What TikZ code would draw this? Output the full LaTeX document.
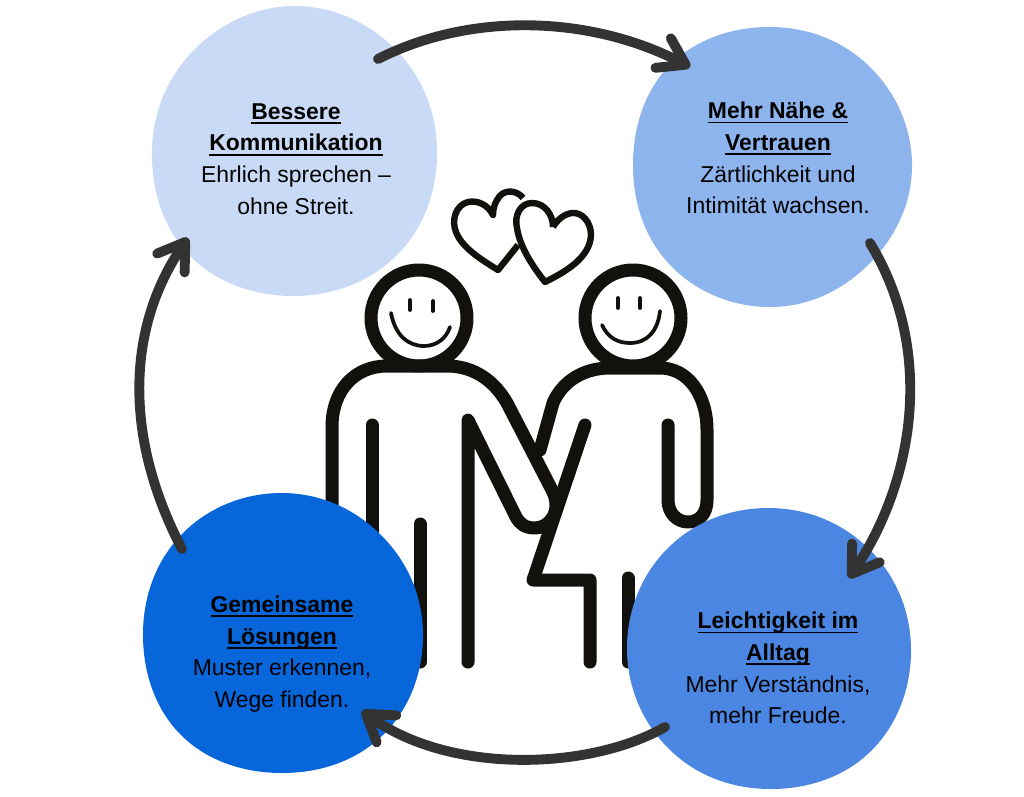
\documentclass[tikz,border=0pt]{standalone}
\usepackage{fontspec}
\setmainfont{Liberation Sans}
\usetikzlibrary{arrows.meta}

\definecolor{softblue}{HTML}{C9DAF6}
\definecolor{lightblue}{HTML}{8EB4EE}
\definecolor{midblue}{HTML}{4A86E2}
\definecolor{deepblue}{HTML}{0766DA}
\definecolor{inkline}{HTML}{12110D}
\definecolor{arrowgrey}{HTML}{333333}

\newcommand{\titleline}[1]{\setbox0\hbox{\textbf{#1}}\rlap{\textbf{#1}}\rule[-3.6pt]{\wd0}{1.4pt}}

\tikzset{
  figure/.style={draw=inkline, line width=9.75pt, line cap=round, line join=round},
  face/.style={draw=inkline, line width=2.8pt, line cap=round},
  heart/.style={draw=inkline, line width=4.8pt, line join=round},
  cycle/.style={draw=arrowgrey, line width=7.4pt, line cap=round,
    -{Straight Barb[length=19pt,width=25pt,line width=7.4pt,round]}},
  caption/.style={align=center, inner sep=0pt, text=black,
    font=\fontsize{17.2}{23.8}\selectfont},
  blob/.style={smooth cycle, tension=0.68}
}

\begin{document}
\begin{tikzpicture}[x=0.75pt, y=-0.75pt]

  \useasboundingbox (0,0) rectangle (1024,796);

  % hearts
  \draw [heart] (523,198) .. controls (517,190) and (503,188) .. (497,200)
    .. controls (494,205) and (493,210) .. (493,215)
    .. controls (488,205) and (478,200) .. (468,202)
    .. controls (456,205) and (451,220) .. (456,232)
    .. controls (462,248) and (482,260) .. (498,270) -- (518,245);
  \draw [heart, fill=white] (553,227) .. controls (553,215) and (545,203) .. (532,203)
    .. controls (520,203) and (514,216) .. (517,228)
    .. controls (520,248) and (534,268) .. (545,282)
    .. controls (565,272) and (590,258) .. (591,235)
    .. controls (591,222) and (582,212) .. (572,213)
    .. controls (564,214) and (557,220) .. (553,227);

  % right person
  \node [circle, minimum size=96*0.75pt, figure, fill=white] (headr) at (633,318) {};
  \draw [face] (618,298) -- (618,308);
  \draw [face] (640,298) -- (640,308);
  \draw [face] (602,325) .. controls (608,338) and (618,343) .. (630,343)
    .. controls (648,343) and (658,330) .. (660,311);
  \draw [figure] (540,450) -- (553,403) .. controls (563,380) and (585,368) .. (610,368)
    -- (660,368) .. controls (688,368) and (707,395) .. (707,430) -- (707,500)
    .. controls (707,515) and (698,522) .. (688,522)
    .. controls (677,522) and (668,513) .. (668,500) -- (668,425);
  \draw [figure] (585,425) -- (533,580) -- (590,580) -- (590,662);
  \draw [figure] (628,578) -- (628,662);

  % left person
  \node [circle, minimum size=96*0.75pt, figure, fill=white] (headl) at (419,318) {};
  \draw [face] (410,300) -- (410,310);
  \draw [face] (433,301) -- (433,311);
  \draw [face] (391,313) .. controls (395,335) and (408,346) .. (424,346)
    .. controls (436,346) and (446,339) .. (450,327);
  \draw [figure] (332,540) -- (332,427) .. controls (332,390) and (355,366) .. (387,366)
    -- (447,366) .. controls (475,366) and (495,382) .. (507,403) -- (553,492)
    .. controls (562,512) and (549,528) .. (535,528)
    .. controls (525,528) and (520,524) .. (516,517) -- (468,420) -- (468,662);
  \draw [figure] (372,425) -- (372,540);
  \draw [figure] (420,524) -- (420,662);

  % circles
  \fill [softblue] plot [blob] coordinates {(295,6) (396,50) (437,151) (398,254) (295,296) (190,256) (152,151) (194,50)};
  \fill [lightblue] plot [blob] coordinates {(772,27) (871,68) (912,167) (869,264) (772,307) (672,267) (633,167) (670,65)};
  \fill [midblue] plot [blob] coordinates {(769,508) (869,549) (911,649) (871,751) (769,789) (669,749) (627,649) (668,548)};
  \fill [deepblue] plot [blob] coordinates {(283,493) (381,535) (423,633) (384,734) (283,773) (181,735) (143,633) (183,533)};

  % texts
  \node [caption] (talk) at (296,159) {\titleline{Bessere}\\\titleline{Kommunikation}\\Ehrlich sprechen –\\ohne Streit.};
  \node [caption] (trust) at (778,158) {\titleline{Mehr Nähe \&}\\\titleline{Vertrauen}\\Zärtlichkeit und\\Intimität wachsen.};
  \node [caption] (ease) at (778,668) {\titleline{Leichtigkeit im}\\\titleline{Alltag}\\Mehr Verständnis,\\mehr Freude.};
  \node [caption] (solve) at (282,654) {\titleline{Gemeinsame}\\\titleline{Lösungen}\\Muster erkennen,\\Wege finden.};

  % arrow ends
  \coordinate (talkout) at (378,59);
  \coordinate (trustin) at (690,67);
  \coordinate (trustout) at (870,243);
  \coordinate (easein) at (849,578);
  \coordinate (easeout) at (665,727);
  \coordinate (solvein) at (362,711);
  \coordinate (solveout) at (182,549);
  \coordinate (talkin) at (188,238);

  \draw [cycle] (talkout) .. controls (470,12) and (590,15) .. (trustin);
  \draw [cycle] (trustout) .. controls (935,350) and (915,480) .. (easein);
  \draw [cycle] (easeout) .. controls (590,770) and (450,775) .. (solvein);
  \draw [cycle] (solveout) .. controls (125,440) and (125,330) .. (talkin);

\end{tikzpicture}
\end{document}
